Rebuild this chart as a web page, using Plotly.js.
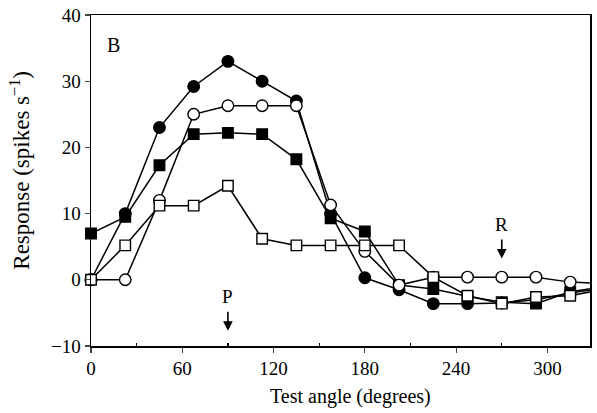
<!DOCTYPE html>
<html>
<head>
<meta charset="utf-8">
<script src="https://cdn.plot.ly/plotly-3.0.1.min.js"></script>
<style>html,body{margin:0;padding:0;background:#fff;}#plot{width:597px;height:413px;}</style>
</head>
<body>
<div id="plot"></div>
<script>
// Test angles (degrees)
const angles = [0, 22.5, 45, 67.5, 90, 112.5, 135, 157.5, 180, 202.5, 225, 247.5, 270, 292.5, 315, 337.5];
// Responses (spikes s^-1)
const filledCircle = [0, 10, 23, 29.2, 33, 30, 27, 10, 0.3, -1.5, -3.6, -3.6, -3.5, -3.0, -2.0, -1.2];
const filledSquare = [7, 9.5, 17.3, 22, 22.2, 22, 18.2, 9.3, 7.3, -0.8, -1.4, -2.5, -3.4, -3.6, -1.8, -1.0];
const openCircle   = [0, 0, 12, 25, 26.3, 26.3, 26.3, 11.3, 4.3, -0.8, 0.4, 0.4, 0.4, 0.4, -0.35, -0.6];
const openSquare   = [0, 5.2, 11.2, 11.2, 14.2, 6.2, 5.2, 5.2, 5.2, 5.2, 0.4, -2.4, -3.6, -2.6, -2.4, -1.4];
const xTicks = [0, 60, 120, 180, 240, 300];
const yTicks = [-10, 0, 10, 20, 30, 40];
const xTitle = 'Test angle (degrees)';
const yTitle = 'Response (spikes s<sup>\u22121</sup>)';

const series = [
  {y: filledCircle, symbol: 'circle', fill: 'black'},
  {y: filledSquare, symbol: 'square', fill: 'black'},
  {y: openCircle, symbol: 'circle', fill: 'white'},
  {y: openSquare, symbol: 'square', fill: 'white'}
];

const traces = [];
series.forEach(s => {
  traces.push({x: angles, y: s.y, mode: 'lines', type: 'scatter',
    line: {color: 'black', width: 1.5}, hoverinfo: 'skip', showlegend: false});
});
const nMark = angles.length - 1; // last angle lies beyond the axis edge
series.forEach(s => {
  traces.push({x: angles.slice(0, nMark), y: s.y.slice(0, nMark), mode: 'markers', type: 'scatter',
    cliponaxis: false, showlegend: false,
    marker: {symbol: s.symbol, size: s.symbol === 'square' ? 10.5 : 11.5, color: s.fill,
      line: {color: 'black', width: 1.4}}});
});

const font = {family: '"Liberation Serif", "Times New Roman", serif', color: 'black'};

const layout = {
  width: 597, height: 413,
  margin: {l: 91, r: 7, t: 15, b: 67},
  paper_bgcolor: 'white', plot_bgcolor: 'white',
  font: Object.assign({size: 19}, font),
  showlegend: false,
  xaxis: {
    range: [0, 328], tickvals: xTicks, ticks: 'outside', ticklen: 5, tickwidth: 1.2,
    showline: true, linewidth: 1.5, linecolor: 'black', mirror: true,
    showgrid: false, zeroline: false,
    minor: {tickvals: [30, 90, 150, 210, 270], ticks: 'inside', ticklen: 3, tickcolor: 'black'},
    tickfont: Object.assign({size: 19}, font)
  },
  yaxis: {
    range: [-10, 40], tickvals: yTicks, ticks: 'outside', ticklen: 5, tickwidth: 1.2,
    showline: true, linewidth: 1.5, linecolor: 'black', mirror: true,
    showgrid: false, zeroline: false,
    tickfont: Object.assign({size: 19}, font)
  },
  annotations: [
    {x: 0.52, y: -0.154, xref: 'paper', yref: 'paper', text: xTitle, showarrow: false,
      xanchor: 'center', yanchor: 'middle', font: Object.assign({size: 20}, font)},
    {x: -0.142, y: 0.53, xref: 'paper', yref: 'paper', text: yTitle, showarrow: false,
      textangle: -90, xanchor: 'center', yanchor: 'middle', font: Object.assign({size: 23}, font)},
    {x: 14.5, y: 35.5, xref: 'x', yref: 'y', text: 'B', showarrow: false,
      font: Object.assign({size: 20}, font)},
    {x: 90, y: -7.7, xref: 'x', yref: 'y', text: 'P', showarrow: true,
      ax: 0, ay: -34, arrowhead: 2, arrowsize: 1.2, arrowwidth: 1.6, arrowcolor: 'black',
      startstandoff: 3, font: Object.assign({size: 19}, font)},
    {x: 270, y: 3.2, xref: 'x', yref: 'y', text: 'R', showarrow: true,
      ax: 0, ay: -34, arrowhead: 2, arrowsize: 1.2, arrowwidth: 1.6, arrowcolor: 'black',
      startstandoff: 3, font: Object.assign({size: 19}, font)}
  ]
};

Plotly.newPlot('plot', traces, layout, {staticPlot: true, displayModeBar: false});
</script>
</body>
</html>
